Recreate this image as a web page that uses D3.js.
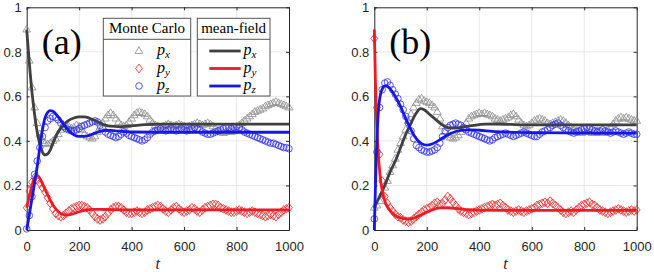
<!DOCTYPE html>
<html>
<head>
<meta charset="utf-8">
<script src="https://cdn.jsdelivr.net/npm/d3@7"></script>
<style>
  body { margin: 0; background: #fff; }
  svg { display: block; }
  .tick text { font-family: "Liberation Sans", Arial, sans-serif; font-size: 13px; fill: #262626; }
</style>
</head>
<body>
<div id="chart"></div>
<script>
// Monte Carlo samples every 10 time units
const tMC = d3.range(0, 1001, 10);

const mcA_px = [0.90,0.76,0.64,0.55,0.48,0.43,0.40,0.39,0.385,0.39,0.40,0.41,0.43,0.45,0.46,0.47,0.465,0.455,0.46,0.47,0.465,0.45,0.43,0.42,0.415,0.41,0.42,0.44,0.46,0.48,0.50,0.515,0.525,0.515,0.50,0.485,0.47,0.465,0.47,0.485,0.50,0.515,0.525,0.53,0.525,0.52,0.51,0.495,0.48,0.47,0.465,0.46,0.465,0.47,0.475,0.47,0.465,0.47,0.475,0.47,0.465,0.46,0.465,0.47,0.475,0.48,0.475,0.47,0.475,0.48,0.475,0.465,0.455,0.445,0.44,0.435,0.44,0.445,0.44,0.445,0.455,0.47,0.48,0.49,0.50,0.51,0.52,0.53,0.535,0.54,0.545,0.555,0.56,0.565,0.57,0.575,0.57,0.565,0.56,0.555,0.55];
const mcA_py = [0.10,0.175,0.215,0.235,0.225,0.21,0.19,0.17,0.145,0.12,0.095,0.075,0.065,0.06,0.065,0.075,0.085,0.095,0.10,0.105,0.11,0.11,0.105,0.10,0.09,0.075,0.06,0.05,0.045,0.05,0.06,0.075,0.09,0.10,0.105,0.105,0.10,0.09,0.08,0.075,0.075,0.08,0.085,0.08,0.075,0.08,0.09,0.095,0.10,0.105,0.11,0.105,0.095,0.085,0.08,0.09,0.10,0.105,0.095,0.085,0.08,0.085,0.09,0.10,0.095,0.085,0.08,0.09,0.10,0.105,0.11,0.115,0.115,0.11,0.10,0.095,0.09,0.085,0.08,0.08,0.085,0.09,0.085,0.08,0.075,0.08,0.085,0.08,0.075,0.07,0.065,0.06,0.065,0.07,0.065,0.06,0.07,0.08,0.09,0.095,0.10];
const mcA_pz = [0.005,0.065,0.15,0.25,0.31,0.37,0.42,0.46,0.49,0.50,0.51,0.505,0.495,0.48,0.465,0.455,0.45,0.445,0.445,0.45,0.455,0.465,0.47,0.475,0.48,0.485,0.49,0.485,0.47,0.455,0.44,0.43,0.425,0.42,0.415,0.42,0.43,0.44,0.435,0.425,0.42,0.415,0.41,0.405,0.40,0.405,0.415,0.43,0.44,0.445,0.45,0.455,0.45,0.445,0.45,0.455,0.45,0.445,0.45,0.455,0.45,0.445,0.45,0.455,0.46,0.455,0.45,0.44,0.435,0.43,0.43,0.435,0.44,0.445,0.45,0.455,0.46,0.46,0.455,0.46,0.465,0.46,0.45,0.44,0.435,0.43,0.425,0.42,0.415,0.41,0.405,0.40,0.395,0.39,0.39,0.385,0.38,0.375,0.37,0.37,0.365];

const mcB_px = [0.10,0.11,0.13,0.16,0.19,0.22,0.26,0.29,0.32,0.36,0.39,0.42,0.45,0.49,0.52,0.55,0.57,0.585,0.59,0.58,0.575,0.57,0.56,0.55,0.53,0.50,0.465,0.44,0.425,0.415,0.41,0.415,0.425,0.44,0.46,0.48,0.50,0.51,0.515,0.52,0.525,0.52,0.525,0.52,0.515,0.51,0.50,0.495,0.49,0.495,0.50,0.505,0.515,0.52,0.51,0.495,0.48,0.47,0.465,0.47,0.48,0.49,0.495,0.50,0.495,0.49,0.48,0.475,0.48,0.485,0.49,0.495,0.49,0.48,0.47,0.46,0.45,0.445,0.44,0.435,0.44,0.445,0.44,0.435,0.44,0.445,0.44,0.435,0.44,0.45,0.46,0.475,0.49,0.50,0.505,0.50,0.505,0.50,0.495,0.49,0.49];
const mcB_py = [0.86,0.55,0.34,0.22,0.15,0.12,0.10,0.085,0.07,0.06,0.055,0.045,0.04,0.035,0.04,0.05,0.06,0.07,0.08,0.09,0.095,0.10,0.11,0.12,0.125,0.115,0.12,0.135,0.15,0.14,0.125,0.11,0.095,0.085,0.08,0.075,0.07,0.075,0.08,0.085,0.09,0.095,0.10,0.105,0.11,0.115,0.11,0.115,0.12,0.11,0.10,0.09,0.085,0.08,0.085,0.09,0.085,0.08,0.085,0.09,0.095,0.10,0.11,0.115,0.12,0.125,0.12,0.13,0.12,0.11,0.10,0.09,0.08,0.075,0.08,0.085,0.08,0.09,0.10,0.11,0.115,0.12,0.125,0.115,0.11,0.10,0.09,0.085,0.08,0.075,0.08,0.085,0.09,0.095,0.09,0.085,0.08,0.085,0.09,0.085,0.09];
const mcB_pz = [0.05,0.35,0.55,0.63,0.66,0.665,0.65,0.63,0.61,0.59,0.565,0.54,0.51,0.48,0.445,0.41,0.38,0.37,0.36,0.355,0.35,0.35,0.355,0.36,0.37,0.39,0.42,0.445,0.46,0.47,0.475,0.48,0.475,0.47,0.46,0.45,0.44,0.435,0.43,0.425,0.42,0.415,0.41,0.405,0.40,0.405,0.415,0.42,0.425,0.43,0.435,0.43,0.425,0.42,0.425,0.43,0.435,0.44,0.435,0.43,0.425,0.42,0.42,0.43,0.44,0.445,0.45,0.46,0.47,0.475,0.48,0.47,0.46,0.45,0.445,0.44,0.435,0.44,0.445,0.45,0.455,0.46,0.455,0.45,0.445,0.44,0.445,0.45,0.445,0.44,0.435,0.44,0.445,0.44,0.435,0.43,0.435,0.44,0.435,0.43,0.43];

// mean-field curves
const mfA_px_t = [0,10,20,30,40,50,60,70,80,90,100,120,140,160,180,200,220,240,260,280,300,320,350,400,450,500,1000];
const mfA_px   = [0.9,0.75,0.62,0.52,0.44,0.385,0.35,0.337,0.342,0.36,0.39,0.44,0.472,0.492,0.503,0.508,0.508,0.502,0.492,0.481,0.471,0.466,0.464,0.468,0.473,0.475,0.475];
const mfA_py_t = [0,10,20,30,40,50,60,70,80,90,100,120,140,160,180,200,220,250,300,400,1000];
const mfA_py   = [0.1,0.15,0.2,0.235,0.245,0.232,0.208,0.182,0.157,0.133,0.112,0.083,0.069,0.068,0.074,0.082,0.088,0.093,0.092,0.09,0.09];
const mfA_pz_t = [0,10,20,30,40,50,60,70,80,90,100,120,140,160,180,200,220,240,260,280,300,320,350,400,500,1000];
const mfA_pz   = [0,0.07,0.14,0.21,0.285,0.37,0.45,0.505,0.528,0.536,0.533,0.508,0.475,0.447,0.428,0.42,0.42,0.426,0.435,0.443,0.447,0.447,0.444,0.44,0.439,0.439];

const mfB_px_t = [0,20,40,60,80,100,120,140,160,175,190,210,230,250,270,290,310,340,380,420,460,520,600,1000];
const mfB_px   = [0.1,0.15,0.2,0.26,0.31,0.37,0.43,0.48,0.525,0.545,0.54,0.52,0.5,0.48,0.465,0.458,0.458,0.463,0.47,0.475,0.476,0.474,0.472,0.472];
const mfB_py_t = [0,4,8,12,16,20,25,30,40,50,60,80,100,120,140,160,180,200,220,250,280,320,360,400,500,1000];
const mfB_py   = [0.9,0.68,0.52,0.41,0.33,0.27,0.215,0.18,0.13,0.105,0.088,0.065,0.055,0.05,0.051,0.058,0.068,0.08,0.09,0.099,0.1,0.096,0.091,0.089,0.088,0.088];
const mfB_pz_t = [0,4,8,12,16,20,25,30,40,50,60,80,100,120,140,160,180,200,220,240,260,280,300,330,360,400,450,500,600,1000];
const mfB_pz   = [0,0.18,0.34,0.46,0.54,0.585,0.615,0.632,0.647,0.645,0.635,0.6,0.555,0.5,0.45,0.41,0.388,0.381,0.386,0.398,0.413,0.427,0.438,0.447,0.45,0.448,0.443,0.44,0.437,0.435];

const xTicks = [0, 200, 400, 600, 800, 1000];
const yTicks = [0, 0.2, 0.4, 0.6, 0.8, 1];
const seriesNames = ["p_x", "p_y", "p_z"];

const mcColor = ["#8c8c8c", "#f02020", "#2e2eff"];
const mfColor = ["#404040", "#ec1c24", "#1616e6"];

const svg = d3.select("#chart").append("svg")
    .attr("width", 654)
    .attr("height", 272);

const yTop = 7.3, yBottom = 230;

function marker(g, type, x, y, color) {
  if (type == 0) {
    g.append("path")
      .attr("d", `M${x},${y - 4.3}L${x + 3.9},${y + 2.4}L${x - 3.9},${y + 2.4}Z`)
      .attr("fill", "none").attr("stroke", color).attr("stroke-width", 0.8);
  } else if (type == 1) {
    g.append("path")
      .attr("d", `M${x},${y - 4.4}L${x + 3.4},${y}L${x},${y + 4.4}L${x - 3.4},${y}Z`)
      .attr("fill", "none").attr("stroke", color).attr("stroke-width", 0.8);
  } else {
    g.append("circle")
      .attr("cx", x).attr("cy", y).attr("r", 3.3)
      .attr("fill", "none").attr("stroke", color).attr("stroke-width", 0.8);
  }
}

function panel(left, right, mc, mf, label) {
  const x = d3.scaleLinear().domain([0, 1000]).range([left, right]);
  const y = d3.scaleLinear().domain([0, 1]).range([yBottom, yTop]);
  const g = svg.append("g");

  // grid
  g.selectAll(".gx").data(xTicks.slice(1, -1)).enter().append("line")
    .attr("x1", d => x(d)).attr("x2", d => x(d))
    .attr("y1", yTop).attr("y2", yBottom)
    .attr("stroke", "#e3e3e3").attr("stroke-width", 0.8);
  g.selectAll(".gy").data(yTicks.slice(1, -1)).enter().append("line")
    .attr("x1", left).attr("x2", right)
    .attr("y1", d => y(d)).attr("y2", d => y(d))
    .attr("stroke", "#e3e3e3").attr("stroke-width", 0.8);

  // axes (ticks inward, box on)
  const ax = [
    [d3.axisBottom(x).tickValues(xTicks).tickFormat(d3.format("d")).tickPadding(12), `translate(0,${yBottom})`],
    [d3.axisTop(x).tickValues(xTicks).tickFormat(""), `translate(0,${yTop})`],
    [d3.axisLeft(y).tickValues(yTicks).tickFormat(d => d == 0 || d == 1 ? d : d3.format(".1f")(d)).tickPadding(5), `translate(${left},0)`],
    [d3.axisRight(y).tickValues(yTicks).tickFormat(""), `translate(${right},0)`]
  ];
  ax.forEach(([a, tr]) => {
    const ag = g.append("g").attr("transform", tr)
      .call(a.tickSizeInner(-3).tickSizeOuter(0));
    ag.select(".domain").attr("stroke", "#262626");
    ag.selectAll(".tick line").attr("stroke", "#262626");
  });

  // Monte Carlo markers
  const mg = g.append("g");
  mc.forEach((vals, s) => {
    vals.forEach((v, i) => marker(mg, s, x(tMC[i]), y(v), mcColor[s]));
  });

  // mean-field lines
  const line = d3.line().x(d => x(d[0])).y(d => y(d[1])).curve(d3.curveMonotoneX);
  mf.forEach(([ts, vs], s) => {
    g.append("path")
      .datum(ts.map((t, i) => [t, vs[i]]))
      .attr("d", line)
      .attr("fill", "none")
      .attr("stroke", mfColor[s])
      .attr("stroke-width", 2.8);
  });

  // panel label
  g.append("text")
    .attr("x", left + 15).attr("y", 53.5)
    .attr("font-family", "Liberation Serif, serif")
    .attr("font-size", 36)
    .text(label);

  // x-axis label
  g.append("text")
    .attr("x", (left + right) / 2).attr("y", 269)
    .attr("text-anchor", "middle")
    .attr("font-family", "Liberation Serif, serif")
    .attr("font-style", "italic")
    .attr("font-size", 16)
    .attr("fill", "#262626")
    .text("t");

  return g;
}

panel(26.7, 289, [mcA_px, mcA_py, mcA_pz],
  [[mfA_px_t, mfA_px], [mfA_py_t, mfA_py], [mfA_pz_t, mfA_pz]], "(a)");
panel(374.3, 636.7, [mcB_px, mcB_py, mcB_pz],
  [[mfB_px_t, mfB_px], [mfB_py_t, mfB_py], [mfB_pz_t, mfB_pz]], "(b)");

// legends in panel (a)
function legendBox(x0, x1, title, draw) {
  const lg = svg.append("g");
  lg.append("rect").attr("x", x0).attr("y", 18.3).attr("width", x1 - x0).attr("height", 77.7)
    .attr("fill", "#fff").attr("stroke", "#555").attr("stroke-width", 1);
  lg.append("line").attr("x1", x0).attr("x2", x1).attr("y1", 39.3).attr("y2", 39.3)
    .attr("stroke", "#555").attr("stroke-width", 1);
  lg.append("text").attr("x", (x0 + x1) / 2).attr("y", 33)
    .attr("text-anchor", "middle")
    .attr("font-family", "Liberation Serif, serif").attr("font-size", 15)
    .text(title);
  const rows = [51, 68.5, 86];
  rows.forEach((ry, i) => draw(lg, ry, i));
}

function pLabel(g, x, y, name) {
  const t = g.append("text").attr("x", x).attr("y", y + 4)
    .attr("font-family", "Liberation Serif, serif").attr("font-size", 16);
  t.append("tspan").attr("font-style", "italic").text("p");
  t.append("tspan").attr("font-style", "italic").attr("font-size", 11).attr("dy", 3).text(name.split("_")[1]);
}

legendBox(103.3, 190.7, "Monte Carlo", (lg, ry, i) => {
  marker(lg, i, 139, ry, mcColor[i]);
  pLabel(lg, 157, ry, seriesNames[i]);
});
legendBox(197.3, 270, "mean-field", (lg, ry, i) => {
  lg.append("line").attr("x1", 209.3).attr("x2", 240.7).attr("y1", ry).attr("y2", ry)
    .attr("stroke", mfColor[i]).attr("stroke-width", 2.8);
  pLabel(lg, 243.5, ry, seriesNames[i]);
});
</script>
</body>
</html>
